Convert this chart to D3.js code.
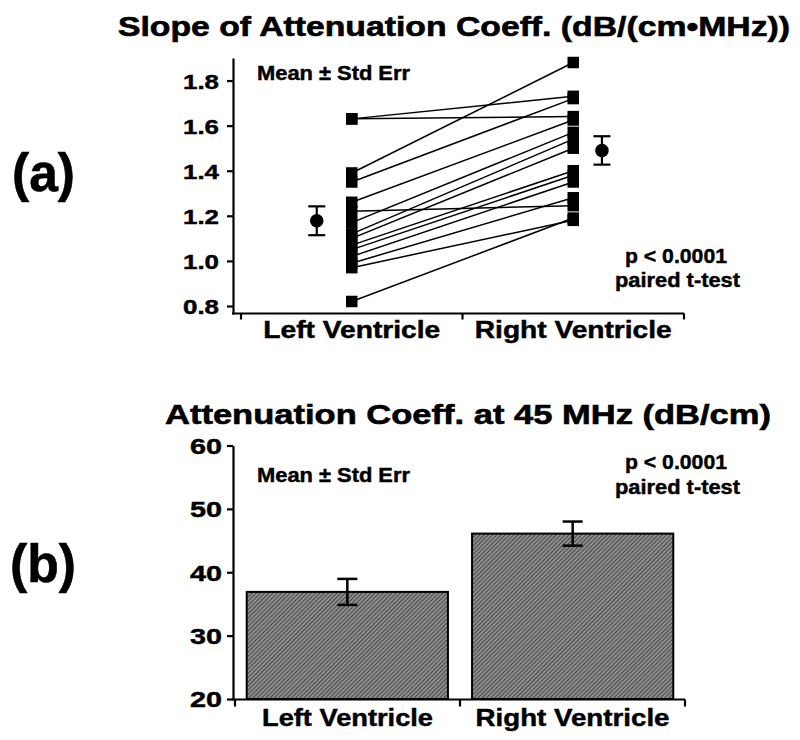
<!DOCTYPE html>
<html><head><meta charset="utf-8">
<script src="https://cdn.jsdelivr.net/npm/d3@7"></script>
<style>
body{margin:0;background:#fff}
svg{display:block}
text{font-family:"Liberation Sans",Arial,Helvetica,sans-serif;font-weight:bold;fill:#000;stroke:#000;stroke-width:0.45px}
text.big{stroke-width:0.6px}
</style>
</head><body><svg id="c" width="800" height="740"></svg>
<script>
// ---------- data ----------
const categories = ["Left Ventricle", "Right Ventricle"];
// panel (a): paired per-subject slopes (dB/(cm·MHz))
const lvSlope = [1.63, 1.63, 1.39, 1.35, 1.26, 1.22, 1.17, 1.12, 1.10, 1.07, 1.05, 1.02, 0.99, 0.97, 0.82];
const rvSlope = [1.64, 1.73, 1.88, 1.72, 1.625, 1.245, 1.57, 1.54, 1.50, 1.40, 1.38, 1.35, 1.28, 1.18, 1.19];
const slopeMean = [1.178, 1.49];
const slopeSE = [0.064, 0.063];
const slopeTicks = [0.8, 1.0, 1.2, 1.4, 1.6, 1.8];
// panel (b): attenuation at 45 MHz (dB/cm)
const attMean = [36.9, 46.1];
const attSE = [2.05, 1.9];
const attTicks = [20, 30, 40, 50, 60];
const titleA = "Slope of Attenuation Coeff. (dB/(cm\u2022MHz))";
const titleB = "Attenuation Coeff. at 45 MHz (dB/cm)";

const svg = d3.select("#c");
function fit(sel, w){ return sel.attr("textLength", w).attr("lengthAdjust", "spacingAndGlyphs"); }
function txt(s, x, y, fs, w, anchor){
  const t = svg.append("text").attr("x", x).attr("y", y).attr("font-size", fs)
    .attr("text-anchor", anchor || "start").text(s);
  if (w) fit(t, w);
  return t;
}

// ================= Panel (a) =================
const ya = d3.scaleLinear().domain([0.7645, 1.9]).range([314, 58]);
const xa = d3.scaleBand().domain(categories).range([241, 684]);
const axXa = 233;

const gYa = svg.append("g").attr("transform", `translate(${axXa},0)`)
  .call(d3.axisLeft(ya).tickValues(slopeTicks).tickFormat(d3.format(".1f")).tickSize(6).tickSizeOuter(0).tickPadding(8));
gYa.select(".domain").attr("stroke", "#000").attr("stroke-width", 2.2);
gYa.selectAll(".tick line").attr("stroke", "#000").attr("stroke-width", 2.2);
gYa.selectAll(".tick text").attr("font-size", 21).attr("font-family", null).attr("fill", "#000").attr("dy", "0.36em")
  .attr("textLength", 36).attr("lengthAdjust", "spacingAndGlyphs");

const xAxisYa = 313.5;
svg.append("line").attr("x1", axXa - 1).attr("x2", xa.range()[1]).attr("y1", xAxisYa).attr("y2", xAxisYa)
  .attr("stroke", "#000").attr("stroke-width", 2.2);
const bndA = [xa(categories[0]), xa(categories[1]), xa(categories[1]) + xa.bandwidth()];
svg.selectAll(".xta").data(bndA).join("line")
  .attr("x1", d => d).attr("x2", d => d).attr("y1", xAxisYa).attr("y2", xAxisYa + 6)
  .attr("stroke", "#000").attr("stroke-width", 2.2);
const xlabWA = [177, 197];
categories.forEach((c, i) => txt(c, xa(c) + xa.bandwidth() / 2, 338, 23, xlabWA[i], "middle"));

const pairs = lvSlope.map((v, i) => [v, rvSlope[i]]);
const cxA = categories.map(c => xa(c) + xa.bandwidth() / 2);
svg.append("g").selectAll("line").data(pairs).join("line")
  .attr("x1", cxA[0]).attr("x2", cxA[1])
  .attr("y1", d => ya(d[0])).attr("y2", d => ya(d[1]))
  .attr("stroke", "#000").attr("stroke-width", 1.5);
const sq = 11.5;
const gSq = svg.append("g");
[lvSlope, rvSlope].forEach((arr, k) => {
  gSq.selectAll(null).data(arr).join("rect")
    .attr("x", cxA[k] - sq / 2).attr("y", d => ya(d) - sq / 2)
    .attr("width", sq).attr("height", sq).attr("fill", "#000");
});
const meanOff = [-35, 28.7];
slopeMean.forEach((m, i) => {
  const x = cxA[i] + meanOff[i];
  const g = svg.append("g").attr("stroke", "#000").attr("stroke-width", 2.2);
  g.append("line").attr("x1", x).attr("x2", x).attr("y1", ya(m - slopeSE[i])).attr("y2", ya(m + slopeSE[i]));
  [m - slopeSE[i], m + slopeSE[i]].forEach(v =>
    g.append("line").attr("x1", x - 8.5).attr("x2", x + 8.5).attr("y1", ya(v)).attr("y2", ya(v)));
  svg.append("circle").attr("cx", x).attr("cy", ya(m)).attr("r", 6.8).attr("fill", "#000");
});

txt(titleA, 118, 36, 28, 672).attr("class", "big");
txt("(a)", 12, 191, 54, 63).attr("class", "big");
txt("Mean \u00b1 Std Err", 257, 80, 20, 153);
txt("p < 0.0001", 625, 263, 21, 102);
txt("paired t-test", 615, 287, 21, 125);

// ================= Panel (b) =================
const yb = d3.scaleLinear().domain([20, 60]).range([699, 445.5]);
const xb = d3.scaleBand().domain(categories).range([235, 685]).paddingInner(0.107).paddingOuter(0.052);
const xb0 = d3.scaleBand().domain(categories).range([235, 685]);
const axXb = 233;

const defs = svg.append("defs");
const pat = defs.append("pattern").attr("id", "hatch").attr("patternUnits", "userSpaceOnUse")
  .attr("width", 3).attr("height", 3).attr("patternTransform", "rotate(45)");
pat.append("rect").attr("width", 3).attr("height", 3).attr("fill", "#8e8e8e");
pat.append("line").attr("x1", 0).attr("y1", 0).attr("x2", 0).attr("y2", 3)
  .attr("stroke", "#262626").attr("stroke-width", 1.4);

svg.append("g").selectAll("rect").data(attMean).join("rect")
  .attr("x", (d, i) => xb(categories[i])).attr("width", xb.bandwidth())
  .attr("y", d => yb(d)).attr("height", d => yb(20) - yb(d))
  .attr("fill", "url(#hatch)").attr("stroke", "#000").attr("stroke-width", 2);

attMean.forEach((m, i) => {
  const x = xb(categories[i]) + xb.bandwidth() / 2;
  const g = svg.append("g").attr("stroke", "#000").attr("stroke-width", 2.5);
  g.append("line").attr("x1", x).attr("x2", x).attr("y1", yb(m - attSE[i])).attr("y2", yb(m + attSE[i]));
  [m - attSE[i], m + attSE[i]].forEach(v =>
    g.append("line").attr("x1", x - 10).attr("x2", x + 10).attr("y1", yb(v)).attr("y2", yb(v)));
});

const gYb = svg.append("g").attr("transform", `translate(${axXb},0)`)
  .call(d3.axisLeft(yb).tickValues(attTicks).tickFormat(d3.format("d")).tickSize(6).tickSizeOuter(0).tickPadding(5));
gYb.select(".domain").attr("stroke", "#000").attr("stroke-width", 2.2);
gYb.selectAll(".tick line").attr("stroke", "#000").attr("stroke-width", 2.2);
gYb.selectAll(".tick text").attr("font-size", 22).attr("font-family", null).attr("fill", "#000").attr("dy", "0.36em")
  .attr("textLength", 32).attr("lengthAdjust", "spacingAndGlyphs");

const xAxisYb = 699.5;
svg.append("line").attr("x1", axXb - 1).attr("x2", xb0.range()[1]).attr("y1", xAxisYb).attr("y2", xAxisYb)
  .attr("stroke", "#000").attr("stroke-width", 2.2);
const bndB = [xb0(categories[0]), xb0(categories[1]), xb0(categories[1]) + xb0.bandwidth()];
svg.selectAll(".xtb").data(bndB).join("line")
  .attr("x1", d => d).attr("x2", d => d).attr("y1", xAxisYb).attr("y2", xAxisYb + 7)
  .attr("stroke", "#000").attr("stroke-width", 2.2);
const xlabWB = [171, 194];
categories.forEach((c, i) => txt(c, xb0(c) + xb0.bandwidth() / 2, 726, 23, xlabWB[i], "middle"));

txt(titleB, 165, 424, 28, 606).attr("class", "big");
txt("(b)", 10, 582, 54, 66).attr("class", "big");
txt("Mean \u00b1 Std Err", 257, 482, 20, 153);
txt("p < 0.0001", 625, 469, 21, 102);
txt("paired t-test", 615, 494, 21, 125);
</script>
</body></html>
